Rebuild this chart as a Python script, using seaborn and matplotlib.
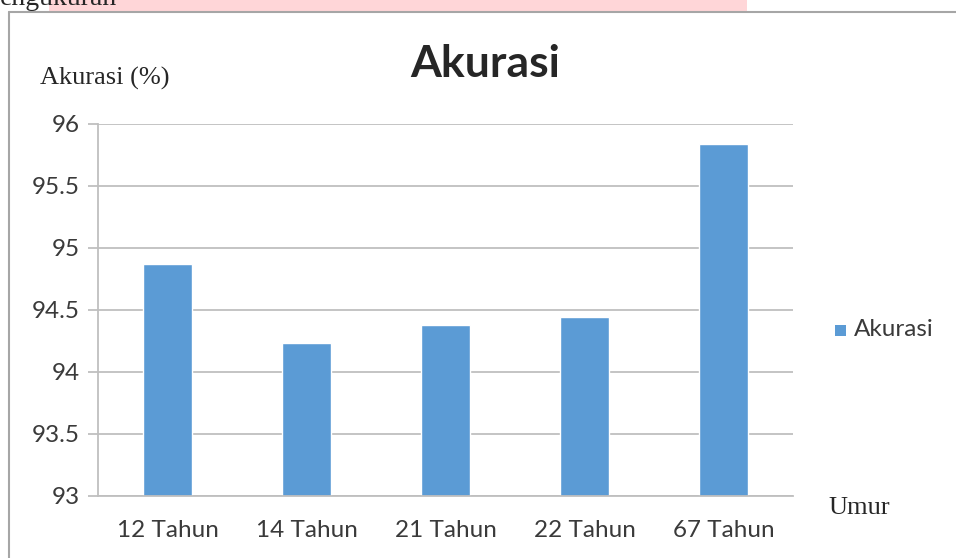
import matplotlib
matplotlib.use("Agg")
import pandas as pd
import seaborn as sns
import matplotlib.pyplot as plt
from matplotlib.patches import Rectangle
from matplotlib.lines import Line2D

umur = ["12 Tahun", "14 Tahun", "21 Tahun", "22 Tahun", "67 Tahun"]
akurasi = [94.87, 94.23, 94.38, 94.44, 95.84]
y_ticks = [93, 93.5, 94, 94.5, 95, 95.5, 96]
y_tick_labels = ["93", "93.5", "94", "94.5", "95", "95.5", "96"]

df = pd.DataFrame({"umur": umur, "akurasi": akurasi})

sns.set_style("white")
plt.rcParams["font.family"] = ["Lato", "DejaVu Sans"]

W, H = 956, 558
fig = plt.figure(figsize=(W / 100, H / 100), dpi=100)

# strip of the page above the chart
fig.add_artist(Rectangle((49 / W, 1 - 12 / H), 698 / W, 12 / H,
                         transform=fig.transFigure, color="#FFD6D8", lw=0))
fig.text(0 / W, 1 - 5 / H, "engukuran", family="Liberation Serif",
         fontsize=20, va="baseline", ha="left")

# chart frame
frame_color = "#A6A6A6"
fig.add_artist(Line2D([9 / W, 1], [1 - 12 / H, 1 - 12 / H],
                      transform=fig.transFigure, color=frame_color, lw=1.5))
fig.add_artist(Line2D([9 / W, 9 / W], [0, 1 - 12 / H],
                      transform=fig.transFigure, color=frame_color, lw=1.5))

ax = fig.add_axes([98 / W, 1 - 496 / H, (793 - 98) / W, (496 - 124) / H])

sns.barplot(
    data=df,
    x="umur",
    y="akurasi",
    color="#5B9BD5",
    saturation=1,
    width=0.35,
    ax=ax
)

ax.set_ylim(93, 96)
ax.set_xlim(-0.5, len(umur) - 0.5)
ax.set_yticks(y_ticks)
ax.set_yticklabels(y_tick_labels)
ax.yaxis.grid(True, color="#BFBFBF", lw=1.3)
ax.set_axisbelow(True)

for side in ["top", "right"]:
    ax.spines[side].set_visible(False)
for side in ["left", "bottom"]:
    ax.spines[side].set_color("#BFBFBF")
    ax.spines[side].set_linewidth(1.3)

ax.set_xticks(range(len(umur)))
ax.set_xticks([i - 0.5 for i in range(len(umur) + 1)], minor=True)
ax.tick_params(axis="x", which="major", length=0, pad=17, labelsize=17.5,
               labelcolor="#3A3A3A")
ax.tick_params(axis="x", which="minor", length=7, width=1.3, color="#BFBFBF")
ax.tick_params(axis="y", length=7, width=1.3, color="#BFBFBF", labelsize=17.5,
               labelcolor="#3A3A3A", pad=6, left=True)

ax.set_xlabel("")
ax.set_ylabel("")

fig.text(40 / W, 1 - 78 / H, "Akurasi (%)", family="Liberation Serif",
         fontsize=19, va="center", ha="left")
fig.text(828 / W, 1 - 508 / H, "Umur", family="Liberation Serif",
         fontsize=19, va="center", ha="left")
fig.text(485 / W, 1 - 64 / H, "Akurasi", fontsize=32, fontweight="bold",
         va="center", ha="center")

# legend
fig.add_artist(Rectangle((835 / W, 1 - 336 / H), 11 / W, 11 / H,
                         transform=fig.transFigure, color="#5B9BD5", lw=0))
fig.text(854 / W, 1 - 330 / H, "Akurasi", fontsize=17.5, color="#3A3A3A",
         va="center", ha="left")

fig.savefig("out.png", dpi=100)
